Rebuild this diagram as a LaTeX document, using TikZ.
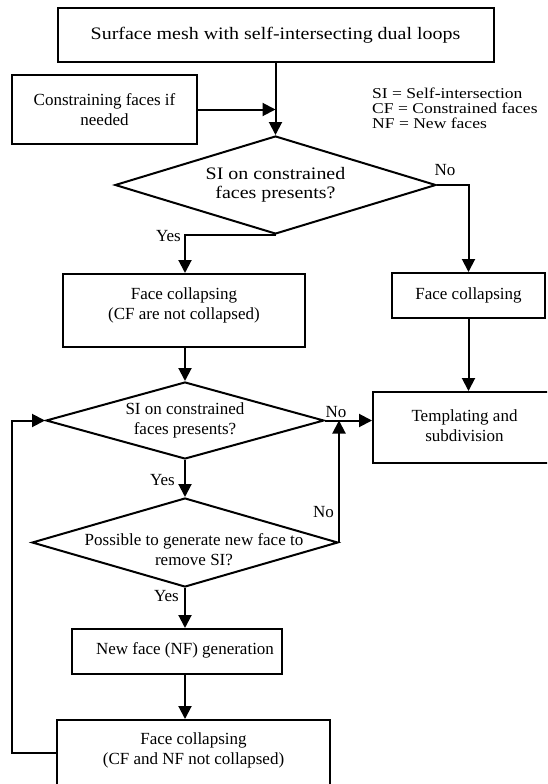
\documentclass[tikz,border=0pt]{standalone}
\usepackage{fontspec}
\setmainfont{Liberation Serif}
\newfontfamily\widefont[FakeStretch=1.14]{Liberation Serif}
\newfontfamily\legfont[FakeStretch=1.17]{Liberation Serif}
\usetikzlibrary{shapes.geometric,arrows.meta}
\begin{document}
\begin{tikzpicture}[x=1pt,y=-1pt,
  box/.style={draw,line width=2pt,rectangle,inner sep=0pt,align=center,font=\fontsize{17}{20}\selectfont},
  dia/.style={draw,line width=2pt,diamond,inner sep=0pt,align=center,font=\fontsize{17}{20}\selectfont},
  arr/.style={line width=2pt,-{Triangle[length=13pt,width=13pt]}},
  lbl/.style={inner sep=0pt,font=\fontsize{17}{20}\selectfont}]
\useasboundingbox (0,0) rectangle (547,784);
\clip (0,0) rectangle (547,784);
\fill[white] (0,0) rectangle (547,784);

\node[box,minimum width=436pt,minimum height=54pt,font=\widefont\fontsize{17.5}{20}\selectfont] (top) at (275.5,35) {Surface mesh with self-intersecting dual loops};
\node[box,minimum width=185pt,minimum height=69pt] (cons) at (104.5,109.5) {Constraining faces if\\needed};
\node[lbl,anchor=west,align=left,font=\legfont\fontsize{15}{15}\selectfont] (leg) at (372,108) {SI = Self-intersection\\CF = Constrained faces\\NF = New faces};
\node[dia,minimum width=321pt,minimum height=98pt,shape aspect=3.28,font=\widefont\fontsize{17.5}{19}\selectfont] (d1) at (275.5,185) {SI on constrained\\faces presents?};
\node[box,minimum width=153pt,minimum height=45pt] (rb) at (468.5,295.5) {Face collapsing};
\node[box,minimum width=242pt,minimum height=73pt,label={[lbl,align=center,yshift=5pt]center:{Face collapsing\\(CF are not collapsed)}}] (lb) at (184,310.5) {};
\node[dia,minimum width=278pt,minimum height=77pt,shape aspect=3.6] (d2) at (185,420.5) {SI on constrained\\faces presents?};
\node[box,minimum width=190pt,minimum height=71pt,label={[lbl,align=center,xshift=-3.5pt,yshift=2pt]center:{Templating and\\subdivision}}] (tb) at (468,427.5) {};
\node[dia,minimum width=306pt,minimum height=89pt,shape aspect=3.44,label={[lbl,align=center,xshift=9pt,yshift=-7.5pt]center:{Possible to generate new face to\\remove SI?}}] (d3) at (185,542.5) {};
\node[box,minimum width=210pt,minimum height=45pt,label={[lbl,xshift=8pt,yshift=1.5pt]center:{New face (NF) generation}}] (nf) at (177,651.5) {};
\node[box,minimum width=273pt,minimum height=70pt,label={[lbl,align=center,yshift=5pt]center:{Face collapsing\\(CF and NF not collapsed)}}] (lc) at (193.5,755) {};

\draw[arr] (top.south) -- (d1.north);
\draw[arr] (cons.east) -- (cons.east -| d1.north);
\draw[arr] (d1.east) -| (rb.north);
\node[lbl] (no1) at (445,170) {No};
\draw[arr] (d1.south) -| (lb.north -| d2.north);
\node[lbl,anchor=east] (yes1) at (181,236) {Yes};
\draw[arr] (lb.south -| d2.north) -- (d2.north);
\draw[arr] (rb.south) -- (rb.south |- tb.north);
\draw[arr] (d2.east) -- (d2.east -| tb.west);
\node[lbl] (no2) at (336,412) {No};
\draw[arr] (d2.south) -- (d3.north);
\node[lbl,anchor=east] (yes2) at (175,480) {Yes};
\draw[arr] (d3.east) -- (d3.east |- d2.east);
\node[lbl,anchor=east] (no3) at (334,512) {No};
\draw[arr] (d3.south) -- (d3.south |- nf.north);
\node[lbl,anchor=east] (yes3) at (179,596) {Yes};
\draw[arr] (d3.south |- nf.south) -- (d3.south |- lc.north);
\draw[arr] ([yshift=2pt]lc.west) -- ++(-44,0) |- (d2.west);
\end{tikzpicture}
\end{document}
